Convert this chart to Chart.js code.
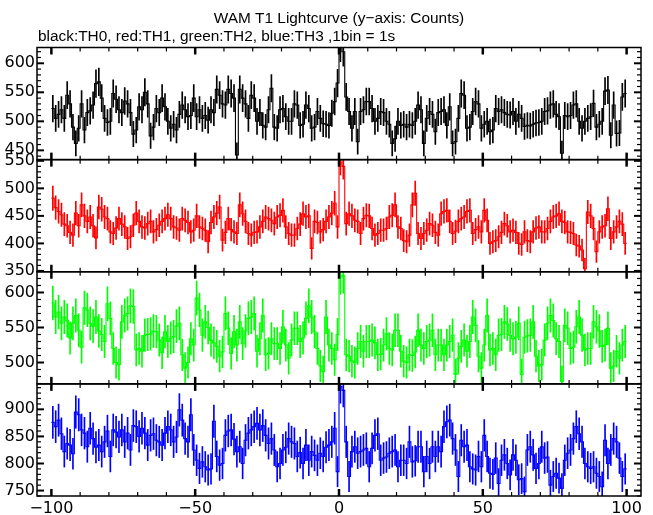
<!DOCTYPE html>
<html>
<head>
<meta charset="utf-8">
<script src="https://cdn.jsdelivr.net/npm/chart.js@4.4.1/dist/chart.umd.min.js"></script>
<style>
  html, body { margin: 0; padding: 0; background: #fff; }
  #wrap { width: 653px; height: 515px; }
</style>
</head>
<body>
<div id="wrap"><canvas id="lc" width="653" height="515"></canvas></div>
<script>
// WAM T1 lightcurve, 1 s bins from -100 s to +100 s
const binStart = -100;

const th0 = [
  522, 505, 512, 520, 505, 545, 530, 490, 462, 488,
  530, 485, 515, 518, 528, 565, 568, 540, 505, 498,
  500, 548, 538, 520, 515, 535, 530, 515, 478, 485,
  525, 520, 550, 530, 475, 490, 522, 515, 540, 525,
  500, 488, 495, 485, 512, 528, 520, 508, 510, 540,
  508, 520, 505, 510, 502, 520, 515, 555, 545, 530,
  528, 555, 548, 540, 442, 555, 540, 530, 505, 545,
  540, 500, 515, 493, 490, 520, 557, 490, 488, 520,
  522, 508, 500, 500, 530, 528, 493, 495, 528, 522,
  488, 490, 517, 505, 496, 495, 493, 514, 534, 566,
  628, 620, 542, 517, 488, 517, 465, 517, 520, 534,
  534, 522, 500, 505, 517, 515, 500, 495, 462, 470,
  500, 493, 495, 490, 495, 493, 500, 528, 520, 462,
  505, 517, 512, 482, 515, 517, 520, 493, 525, 462,
  465, 505, 548, 545, 488, 490, 517, 534, 530, 488,
  495, 500, 482, 485, 522, 517, 520, 515, 512, 511,
  517, 500, 512, 505, 491, 493, 492, 495, 497, 498,
  500, 517, 518, 528, 530, 512, 508, 445, 510, 508,
  510, 528, 530, 500, 488, 500, 505, 508, 531, 490,
  495, 500, 552, 554, 476, 528, 479, 480, 542, 548
];

const th1 = [
  482, 465, 458, 452, 435, 432, 420, 415, 455, 432,
  470, 450, 440, 448, 432, 410, 466, 462, 448, 445,
  421, 418, 428, 445, 435, 430, 409, 412, 433, 455,
  440, 430, 428, 436, 440, 421, 425, 433, 440, 445,
  452, 445, 430, 428, 424, 445, 442, 438, 421, 424,
  450, 430, 427, 424, 403, 438, 448, 455, 466, 406,
  420, 445, 425, 421, 418, 470, 454, 440, 418, 415,
  420, 421, 430, 440, 448, 445, 442, 436, 448, 451,
  460, 430, 418, 415, 415, 427, 435, 454, 448, 450,
  391, 440, 438, 421, 425, 440, 448, 455, 473, 430,
  548, 540, 436, 454, 450, 442, 440, 418, 445, 451,
  450, 427, 415, 418, 424, 424, 427, 448, 451, 470,
  430, 427, 405, 403, 415, 470, 491, 418, 409, 418,
  424, 436, 433, 420, 415, 454, 458, 460, 440, 418,
  422, 440, 445, 448, 458, 460, 418, 425, 430, 421,
  460, 442, 400, 403, 405, 412, 420, 436, 432, 421,
  424, 420, 400, 398, 421, 405, 403, 421, 428, 430,
  421, 421, 427, 440, 448, 450, 454, 440, 438, 421,
  420, 418, 397, 395, 388, 354, 457, 450, 427, 385,
  421, 430, 432, 463, 409, 421, 430, 440, 435, 400
];

const th2 = [
  585, 565, 572, 556, 565, 560, 535, 556, 567, 546,
  522, 578, 575, 556, 552, 565, 545, 540, 530, 584,
  563, 520, 500, 497, 558, 567, 570, 581, 580, 518,
  520, 516, 539, 540, 541, 545, 544, 532, 514, 544,
  530, 535, 537, 552, 556, 511, 492, 500, 534, 525,
  592, 575, 539, 558, 550, 532, 528, 523, 509, 515,
  570, 549, 513, 544, 525, 558, 527, 545, 563, 565,
  570, 516, 534, 567, 511, 513, 534, 527, 527, 520,
  551, 525, 506, 532, 549, 549, 530, 535, 563, 581,
  565, 544, 520, 495, 487, 565, 525, 520, 504, 540,
  622, 624, 511, 509, 502, 500, 520, 530, 516, 530,
  530, 532, 528, 511, 512, 525, 541, 520, 518, 546,
  546, 516, 502, 500, 511, 510, 515, 546, 525, 520,
  530, 532, 546, 511, 525, 525, 511, 525, 530, 539,
  483, 506, 523, 532, 516, 530, 565, 553, 509, 492,
  525, 567, 518, 520, 511, 539, 540, 558, 555, 539,
  534, 536, 556, 483, 536, 538, 539, 558, 509, 495,
  497, 532, 556, 567, 560, 534, 530, 473, 553, 549,
  520, 522, 551, 565, 539, 518, 520, 520, 558, 551,
  545, 523, 525, 549, 492, 495, 516, 506, 525, 530
];

const th3 = [
  876, 868, 880, 855, 822, 837, 834, 818, 895, 890,
  862, 856, 831, 865, 846, 830, 834, 822, 840, 860,
  813, 862, 858, 849, 862, 840, 856, 825, 870, 868,
  850, 865, 856, 834, 852, 855, 843, 840, 834, 856,
  868, 862, 840, 849, 899, 880, 846, 840, 890, 825,
  806, 791, 803, 794, 788, 790, 878, 813, 797, 800,
  852, 860, 862, 845, 822, 831, 800, 843, 856, 862,
  868, 874, 862, 870, 852, 837, 846, 825, 794, 800,
  825, 830, 846, 840, 837, 813, 820, 800, 834, 806,
  822, 815, 806, 819, 813, 830, 834, 840, 865, 785,
  942, 935, 840, 776, 822, 831, 819, 822, 825, 828,
  794, 828, 852, 855, 806, 810, 812, 819, 822, 825,
  794, 806, 806, 800, 840, 803, 805, 831, 831, 785,
  813, 800, 831, 813, 831, 822, 868, 877, 880, 846,
  825, 776, 843, 831, 834, 794, 790, 788, 813, 794,
  852, 813, 782, 780, 810, 763, 806, 816, 800, 779,
  816, 806, 770, 772, 748, 825, 831, 816, 791, 800,
  831, 810, 812, 760, 776, 782, 773, 754, 806, 819,
  825, 846, 868, 855, 840, 800, 794, 791, 794, 782,
  776, 757, 843, 800, 825, 846, 840, 810, 776, 790
];

const panelColors = ['#000000', '#ff0000', '#00ff00', '#0000ff'];
const panelMin = [434, 348.5, 469.5, 740];
const panelMax = [627.2, 552.2, 629.6, 947];
const xTicks = [-100, -50, 0, 50, 100];
const titleText = 'WAM T1 Lightcurve (y\u2212axis: Counts)';
const subtitleText = 'black:TH0, red:TH1, green:TH2, blue:TH3 ,1bin = 1s';

const tickFont = { family: 'DejaVu Sans', size: 16 };
const series = [th0, th1, th2, th3];

// step line + sqrt(N) error bar for every panel
const datasets = [];
series.forEach((vals, p) => {
  const yId = 'y' + p;
  const lo = panelMin[p], hi = panelMax[p];
  const clamp = v => Math.min(hi, Math.max(lo, v));
  const steps = vals.map((v, i) => ({ x: binStart + i, y: clamp(v) }));
  steps.push({ x: binStart + vals.length, y: clamp(vals[vals.length - 1]) });
  datasets.push({
    type: 'line',
    data: steps,
    yAxisID: yId,
    borderColor: panelColors[p],
    borderWidth: 1.1,
    stepped: true,
    pointRadius: 0,
    fill: false
  });
  datasets.push({
    type: 'bar',
    data: vals.map((v, i) => {
      const e = Math.sqrt(v);
      return { x: binStart + i + 0.5, y: [clamp(v - e), clamp(v + e)] };
    }),
    yAxisID: yId,
    backgroundColor: panelColors[p],
    barThickness: 1,
    grouped: false,
    borderWidth: 0
  });
});

function yScale(p) {
  return {
    type: 'linear',
    position: 'left',
    stack: 'panels',
    stackWeight: 1,
    min: panelMin[p],
    max: panelMax[p],
    grid: { display: false, drawTicks: false },
    border: { display: false },
    ticks: { autoSkip: false, color: '#000', font: tickFont, padding: 2 },
    afterBuildTicks: s => {
      const t = [];
      for (let v = Math.ceil(s.min / 50) * 50; v <= s.max; v += 50) t.push({ value: v });
      s.ticks = t;
    },
    afterFit: s => { s.width = 37; }
  };
}

const scales = {
  x: {
    type: 'linear',
    min: -105,
    max: 105,
    offset: false,
    grid: { display: false, drawTicks: false, offset: false },
    border: { display: false },
    ticks: {
      autoSkip: false, maxRotation: 0, color: '#000', font: tickFont, padding: 3,
      callback: v => String(v).replace('-', '\u2212')
    },
    afterBuildTicks: s => { s.ticks = xTicks.map(v => ({ value: v })); },
    afterFit: s => { s.height = 19; }
  }
};
// stacked left axes are placed top-down from the last declared one
for (let p = 3; p >= 0; p--) scales['y' + p] = yScale(p);

function seg(ctx, x1, y1, x2, y2) {
  ctx.beginPath();
  ctx.moveTo(x1, y1);
  ctx.lineTo(x2, y2);
  ctx.stroke();
}

// panel frames, inward ticks and the two header lines
const framePlugin = {
  id: 'frame',
  afterDatasetsDraw(chart) {
    const ctx = chart.ctx;
    const area = chart.chartArea;
    const xs = chart.scales.x;
    ctx.save();
    ctx.strokeStyle = '#000';
    for (let p = 0; p < 4; p++) {
      const ys = chart.scales['y' + p];
      const top = ys.top, bot = ys.bottom;
      ctx.lineWidth = 1.5;
      ctx.strokeRect(area.left, top, area.right - area.left, bot - top);
      for (let v = Math.ceil(ys.min / 10) * 10; v <= ys.max; v += 10) {
        const y = ys.getPixelForValue(v);
        const major = v % 50 === 0;
        const len = major ? 7 : 4;
        ctx.lineWidth = major ? 2 : 1.2;
        seg(ctx, area.left, y, area.left + len, y);
        seg(ctx, area.right, y, area.right - len, y);
      }
      for (let t = -100; t <= 100; t += 10) {
        const x = xs.getPixelForValue(t);
        const major = t % 50 === 0;
        const len = major ? 7 : 4;
        ctx.lineWidth = major ? 2.5 : 1.2;
        seg(ctx, x, top, x, top + len);
        seg(ctx, x, bot, x, bot - len);
      }
    }
    ctx.fillStyle = '#000';
    ctx.font = '15.4px "Liberation Sans"';
    ctx.textBaseline = 'alphabetic';
    ctx.textAlign = 'center';
    ctx.fillText(titleText, (area.left + area.right) / 2, 23);
    ctx.textAlign = 'left';
    ctx.fillText(subtitleText, area.left + 1, 41);
    ctx.restore();
  }
};

new Chart(document.getElementById('lc'), {
  type: 'line',
  data: { datasets: datasets },
  options: {
    responsive: false,
    devicePixelRatio: 1,
    animation: false,
    layout: { padding: { top: 47.5, right: 12, left: 0, bottom: 0 } },
    scales: scales,
    plugins: {
      legend: { display: false },
      tooltip: { enabled: false }
    }
  },
  plugins: [framePlugin]
});
</script>
</body>
</html>
